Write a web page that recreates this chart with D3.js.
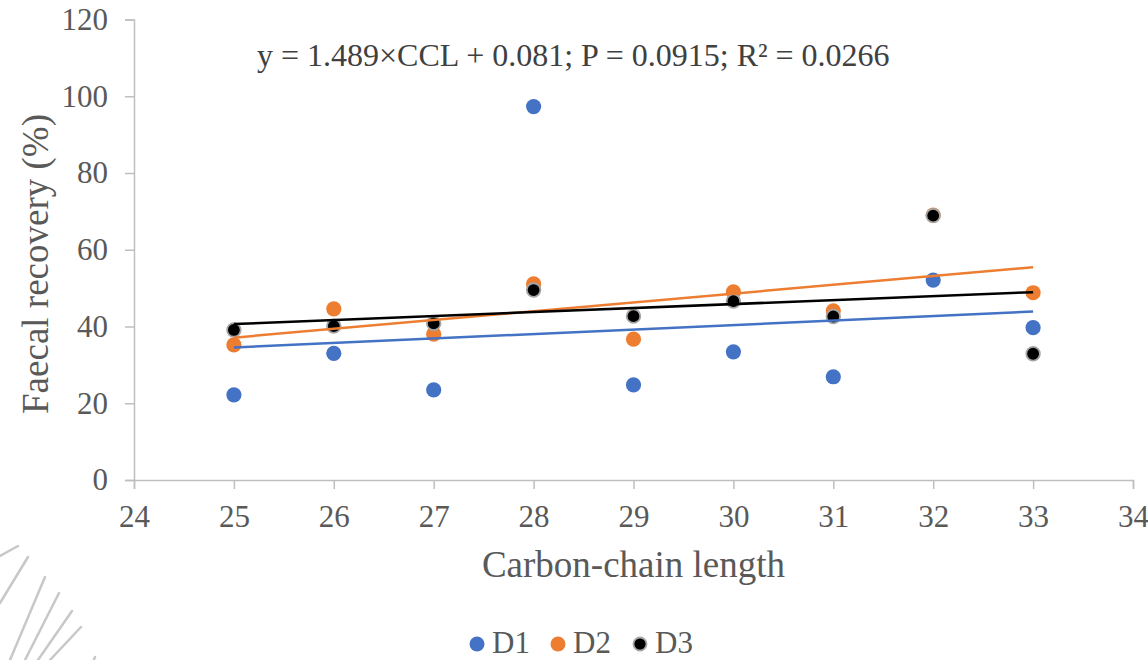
<!DOCTYPE html>
<html>
<head>
<meta charset="utf-8">
<script src="https://d3js.org/d3.v7.min.js"></script>
<style>
  body { margin: 0; background: #fff; }
  svg { display: block; }
  svg text { font-family: 'Liberation Serif', 'Times New Roman', serif !important; }
</style>
</head>
<body>
<div id="chart"></div>
<script>
// Faecal recovery vs carbon-chain length, three series + linear trend lines

const ccl = [25, 26, 27, 28, 29, 30, 31, 32, 33];
const d1 = [22.2, 33.0, 23.5, 97.3, 24.8, 33.4, 26.9, 52.1, 39.7];
const d2 = [35.2, 44.6, 38.0, 51.1, 36.7, 49.0, 44.1, 69.0, 48.8];
const d3v = [39.1, 40.1, 40.8, 49.5, 42.7, 46.6, 42.6, 68.9, 32.9];

const seriesNames = ["D1", "D2", "D3"];
const seriesFill = ["#4472C4", "#ED7D31", "#000000"];
const seriesStroke = ["#4472C4", "#ED7D31", "#A5A5A5"];

const xTicks = [24, 25, 26, 27, 28, 29, 30, 31, 32, 33, 34];
const yTicks = [0, 20, 40, 60, 80, 100, 120];

const equation = "y = 1.489×CCL + 0.081; P = 0.0915; R² = 0.0266";

// decoration in the lower-left corner (light grey strokes)
const decoStrokes = [
  [0, 556, 18, 546], [28, 557, 0, 603], [45, 577, 10, 660],
  [59, 593, 25, 660], [72, 611, 38, 660], [81, 627, 50, 660], [95, 657, 93, 662]
];

const width = 1148, height = 660;
const axisColor = "#BFBFBF", textColor = "#595959";

const svg = d3.select("#chart").append("svg")
  .attr("width", width).attr("height", height);

const x = d3.scaleLinear().domain([24, 34]).range([134, 1133]);
const y = d3.scaleLinear().domain([0, 120]).range([480, 19.5]);

// Axe Y
const gy = svg.append("g")
  .attr("transform", `translate(${x(24)},0)`)
  .call(d3.axisLeft(y).tickValues(yTicks).tickSize(9).tickPadding(17));
gy.attr("font-family", null);
gy.selectAll("path, line").attr("stroke", axisColor).attr("stroke-width", 1.5);
gy.selectAll("text").attr("fill", textColor).style("font-size", "31px");

// Axe X
const gx = svg.append("g")
  .attr("transform", `translate(0,${y(0)})`)
  .call(d3.axisBottom(x).tickValues(xTicks).tickSize(9).tickPadding(16));
gx.attr("font-family", null);
gx.selectAll("path, line").attr("stroke", axisColor).attr("stroke-width", 1.5);
gx.selectAll("text").attr("fill", textColor).style("font-size", "31px");

// Titres des axes
svg.append("text")
  .attr("x", (x(24) + x(34)) / 2).attr("y", 577)
  .attr("text-anchor", "middle").attr("fill", textColor)
  .style("font-size", "37px")
  .text("Carbon-chain length");

svg.append("text")
  .attr("transform", `translate(48,264) rotate(-90)`)
  .attr("text-anchor", "middle").attr("fill", textColor)
  .style("font-size", "37px")
  .text("Faecal recovery (%)");

// Equation
svg.append("text")
  .attr("x", 257).attr("y", 66)
  .attr("fill", "#404040")
  .style("font-size", "32px")
  .text(equation);

// Droites de tendance (moindres carrés)
const allSeries = [d1, d2, d3v];
function linFit(xs, ys) {
  const mx = d3.mean(xs), my = d3.mean(ys);
  const b = d3.sum(xs, (v, i) => (v - mx) * (ys[i] - my)) / d3.sum(xs, v => (v - mx) ** 2);
  return { b, a: my - b * mx };
}

// Points
allSeries.forEach((vals, s) => {
  svg.append("g").selectAll("circle")
    .data(ccl.map((c, i) => ({ c, v: vals[i] })))
    .join("circle")
    .attr("cx", d => x(d.c))
    .attr("cy", d => y(d.v))
    .attr("r", s === 2 ? 6.8 : 7.6)
    .attr("fill", seriesFill[s])
    .attr("stroke", seriesStroke[s])
    .attr("stroke-width", s === 2 ? 1.8 : 0);
});

allSeries.forEach((vals, s) => {
  const f = linFit(ccl, vals);
  const x0 = d3.min(ccl), x1 = d3.max(ccl);
  svg.append("line")
    .attr("x1", x(x0)).attr("y1", y(f.a + f.b * x0))
    .attr("x2", x(x1)).attr("y2", y(f.a + f.b * x1))
    .attr("stroke", seriesFill[s])
    .attr("stroke-width", 2.5);
});

// Légende
const legendX = [477, 558, 640];
seriesNames.forEach((name, s) => {
  svg.append("circle")
    .attr("cx", legendX[s]).attr("cy", 644)
    .attr("r", s === 2 ? 6.5 : 7.5)
    .attr("fill", seriesFill[s])
    .attr("stroke", seriesStroke[s])
    .attr("stroke-width", s === 2 ? 1.8 : 0);
  svg.append("text")
    .attr("x", legendX[s] + 15).attr("y", 653)
    .attr("fill", textColor)
    .style("font-size", "31px")
    .text(name);
});

// Décor
svg.append("g").selectAll("line")
  .data(decoStrokes)
  .join("line")
  .attr("x1", d => d[0]).attr("y1", d => d[1])
  .attr("x2", d => d[2]).attr("y2", d => d[3])
  .attr("stroke", "#C8C8C8")
  .attr("stroke-width", 2.5)
  .attr("stroke-linecap", "round");
</script>
</body>
</html>
